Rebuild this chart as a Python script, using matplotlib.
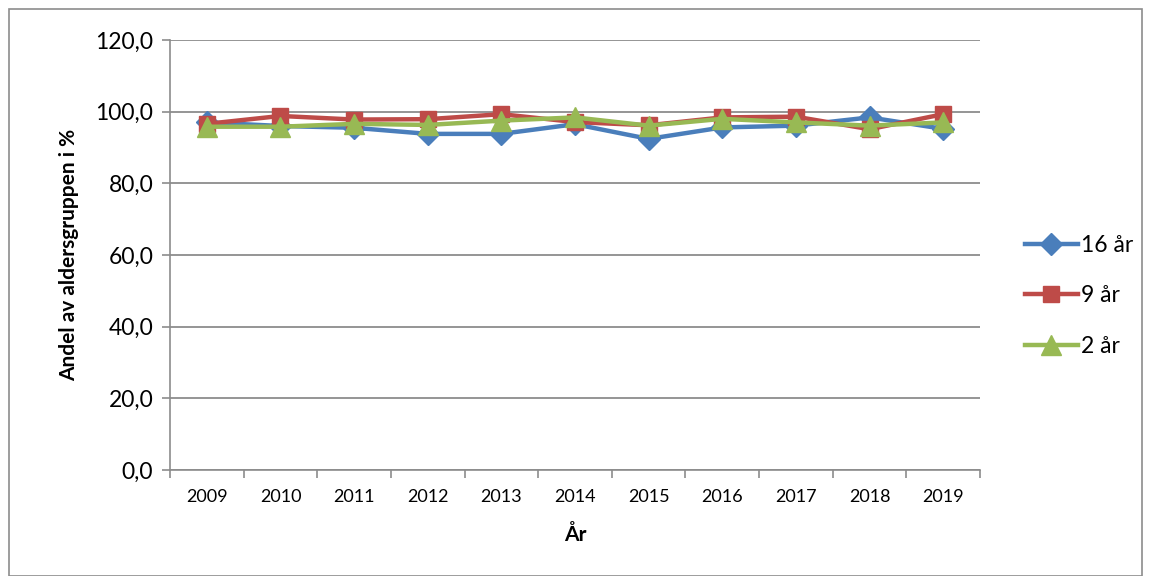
import numpy as np
import matplotlib.pyplot as plt
from matplotlib.patches import Rectangle

plt.rcParams['font.family'] = ['Lato', 'DejaVu Sans']

years = ['2009', '2010', '2011', '2012', '2013', '2014',
         '2015', '2016', '2017', '2018', '2019']
age16 = [97.0, 96.0, 95.5, 93.8, 93.8, 96.5, 92.4, 95.6, 96.1, 98.4, 95.2]
age9 = [96.6, 98.8, 97.8, 97.9, 99.3, 97.1, 96.2, 98.4, 98.6, 95.1, 99.3]
age2 = [95.8, 95.8, 96.6, 96.3, 97.5, 98.4, 96.1, 98.0, 97.0, 96.1, 97.0]
yticks = np.arange(0, 121, 20)

fig = plt.figure(figsize=(11.51, 5.76), dpi=100)
ax = fig.add_axes([170 / 1151, 1 - 470 / 576, 810 / 1151, 430 / 576])

# outer chart border
fig.patches.append(Rectangle((9 / 1151, 0), 1 - 18 / 1151, 1 - 9 / 576,
                             transform=fig.transFigure, fill=False,
                             edgecolor='#8c8c8c', linewidth=1.2))

x = np.arange(len(years))
ax.plot(x, age16, color='#4a7ebb', lw=3.2, marker='D', ms=11, label='16 år')
ax.plot(x, age9, color='#be4b48', lw=3.2, marker='s', ms=12, label='9 år')
ax.plot(x, age2, color='#98b954', lw=3.2, marker='^', ms=14, label='2 år')

ax.set_xlim(-0.5, len(years) - 0.5)
ax.set_ylim(0, 120)
ax.set_yticks(yticks)
ax.set_yticklabels([f'{v:.1f}'.replace('.', ',') for v in yticks], fontsize=16.5)
ax.yaxis.grid(True, color='#8c8c8c', linewidth=1.3)
ax.set_axisbelow(True)

ax.set_xticks(x)
ax.set_xticklabels(years, fontsize=13)
ax.set_xticks(np.arange(-0.5, len(years)), minor=True)
ax.tick_params(axis='x', which='major', length=0, pad=14)
ax.tick_params(axis='x', which='minor', length=6, color='#8c8c8c', width=1.2)
ax.tick_params(axis='y', length=6, color='#8c8c8c', width=1.2, pad=6)

for side in ['top', 'right']:
    ax.spines[side].set_visible(False)
for side in ['left', 'bottom']:
    ax.spines[side].set_color('#8c8c8c')
    ax.spines[side].set_linewidth(1.2)

ax.set_xlabel('År', fontsize=15, fontweight='bold', labelpad=14)
ax.set_ylabel('Andel av aldersgruppen i %', fontsize=15, fontweight='bold', labelpad=12)

ax.legend(loc='center left', bbox_to_anchor=(1.03, 0.405), frameon=False,
          fontsize=16.5, handlelength=2.3, labelspacing=1.3, handletextpad=0.15)

fig.savefig('out.png', dpi=100)
